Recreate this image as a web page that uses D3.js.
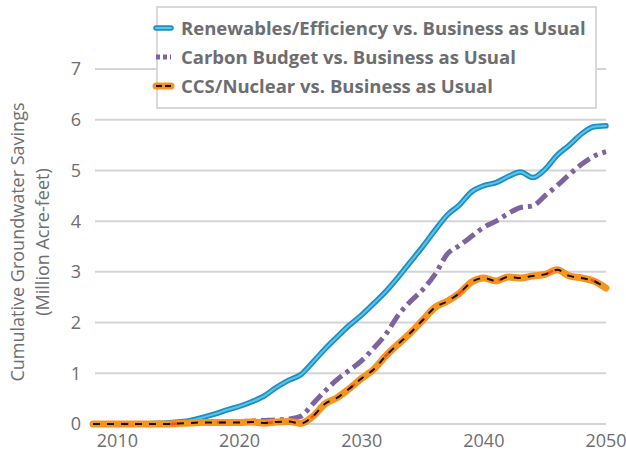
<!DOCTYPE html>
<html>
<head>
<meta charset="utf-8">
<script src="https://cdn.jsdelivr.net/npm/d3@7"></script>
<style>
  body { margin: 0; background: #fff; }
  svg { display: block; font-family: "Open Sans", "Noto Sans", sans-serif; }
</style>
</head>
<body>
<svg id="chart" width="626" height="455"></svg>
<script>
// years on the x axis
const years = d3.range(2008, 2051);

// cumulative savings, million acre-feet, one value per year
const renewables = [
  0, 0, 0, 0, 0, 0.01, 0.02, 0.04, 0.07, 0.13,
  0.2, 0.28, 0.35, 0.44, 0.55, 0.72, 0.86, 0.97, 1.22, 1.48,
  1.72, 1.95, 2.15, 2.38, 2.62, 2.9, 3.2, 3.5, 3.82, 4.12,
  4.32, 4.58, 4.7, 4.76, 4.88, 4.97, 4.86, 5.02, 5.3, 5.5,
  5.72, 5.86, 5.88
];
const carbonBudget = [
  0, 0, 0, 0, 0, 0, 0, 0.01, 0.03, 0.04,
  0.05, 0.05, 0.05, 0.06, 0.07, 0.08, 0.1, 0.15, 0.4, 0.65,
  0.88, 1.06, 1.25, 1.5, 1.78, 2.15, 2.42, 2.65, 2.95, 3.35,
  3.52, 3.7, 3.88, 4.0, 4.15, 4.27, 4.3, 4.5, 4.7, 4.92,
  5.12, 5.28, 5.37
];
const ccsNuclear = [
  0, 0, 0, 0, 0, 0, 0, 0.01, 0.02, 0.03,
  0.03, 0.03, 0.03, 0.04, 0.02, 0.04, 0.05, 0.01, 0.15, 0.4,
  0.52, 0.7, 0.9, 1.08, 1.35, 1.58, 1.8, 2.05, 2.3, 2.42,
  2.58, 2.8, 2.88, 2.82, 2.9, 2.88, 2.92, 2.95, 3.04, 2.92,
  2.88, 2.82, 2.68
];

const seriesNames = [
  "Renewables/Efficiency vs. Business as Usual",
  "Carbon Budget vs. Business as Usual",
  "CCS/Nuclear vs. Business as Usual"
];
const xTicks = [2010, 2020, 2030, 2040, 2050];
const yTicks = [0, 1, 2, 3, 4, 5, 6, 7];
const yTitle = ["Cumulative Groundwater Savings", "(Million Acre-feet)"];

const textColor = "#6d6e71";
const gridColor = "#d4d4d4";

const svg = d3.select("#chart");

const x = d3.scaleLinear().domain([2008, 2050]).range([93, 606]);
const y = d3.scaleLinear().domain([0, 7]).range([424, 69]);

// gridlines
svg.append("g")
  .selectAll("line")
  .data(yTicks)
  .join("line")
    .attr("x1", 95)
    .attr("x2", 606)
    .attr("y1", d => y(d))
    .attr("y2", d => y(d))
    .attr("stroke", gridColor)
    .attr("stroke-width", 2);

// y tick labels
svg.append("g")
  .selectAll("text")
  .data(yTicks)
  .join("text")
    .attr("x", 81)
    .attr("y", d => y(d))
    .attr("dy", "0.36em")
    .attr("text-anchor", "end")
    .attr("fill", textColor)
    .style("font-size", "18px")
    .text(d => d);

// x tick labels
svg.append("g")
  .selectAll("text")
  .data(xTicks)
  .join("text")
    .attr("x", d => x(d))
    .attr("y", 447)
    .attr("text-anchor", "middle")
    .attr("fill", textColor)
    .style("font-size", "18px")
    .text(d => d);

// y axis title
svg.append("g")
  .attr("transform", "translate(0,242) rotate(-90)")
  .selectAll("text")
  .data(yTitle)
  .join("text")
    .attr("x", 0)
    .attr("y", (d, i) => 24 + i * 25)
    .attr("text-anchor", "middle")
    .attr("fill", textColor)
    .style("font-size", "18px")
    .text(d => d);

const line = d3.line()
  .x((d, i) => x(years[i]))
  .y(d => y(d))
  .curve(d3.curveMonotoneX);

// line styles, drawn as stacked strokes
const styles = [
  [
    { stroke: "#1f8fbf", width: 5.5 },
    { stroke: "#5cc4ea", width: 2 }
  ],
  [
    { stroke: "#7d649f", width: 5, dash: "14,5,4,5" }
  ],
  [
    { stroke: "#f7941d", width: 7 },
    { stroke: "#ef4f2c", width: 2.5, dash: "8,40", offset: 20 },
    { stroke: "#111", width: 2, dash: "7,7" }
  ]
];

const plot = svg.append("g");
[renewables, carbonBudget, ccsNuclear].forEach((vals, k) => {
  styles[k].forEach(s => {
    plot.append("path")
      .datum(vals)
      .attr("d", line)
      .attr("fill", "none")
      .attr("stroke", s.stroke)
      .attr("stroke-width", s.width)
      .attr("stroke-linejoin", "round")
      .attr("stroke-linecap", s.dash ? "butt" : "round")
      .attr("stroke-dasharray", s.dash || null)
      .attr("stroke-dashoffset", s.offset || 0);
  });
});

// legend
const legend = svg.append("g");
legend.append("rect")
  .attr("x", 157)
  .attr("y", 7)
  .attr("width", 439)
  .attr("height", 101)
  .attr("fill", "#fff")
  .attr("stroke", "#d9d9d9")
  .attr("stroke-width", 2);

const rows = legend.selectAll("g.row")
  .data(seriesNames)
  .join("g")
    .attr("class", "row")
    .attr("transform", (d, i) => `translate(0,${28 + i * 29})`);

rows.each(function(d, i) {
  const g = d3.select(this);
  styles[i].forEach(s => {
    g.append("line")
      .attr("x1", 156)
      .attr("x2", 171)
      .attr("stroke", s.stroke)
      .attr("stroke-width", s.width)
      .attr("stroke-linecap", s.dash ? "butt" : "round")
      .attr("stroke-dasharray", s.dash ? (i === 1 ? "4,3" : "6,3") : null);
  });
});

rows.append("text")
  .attr("x", 181)
  .attr("dy", "0.36em")
  .attr("fill", textColor)
  .style("font-size", "18.5px")
  .style("font-weight", "bold")
  .text(d => d);
</script>
</body>
</html>
